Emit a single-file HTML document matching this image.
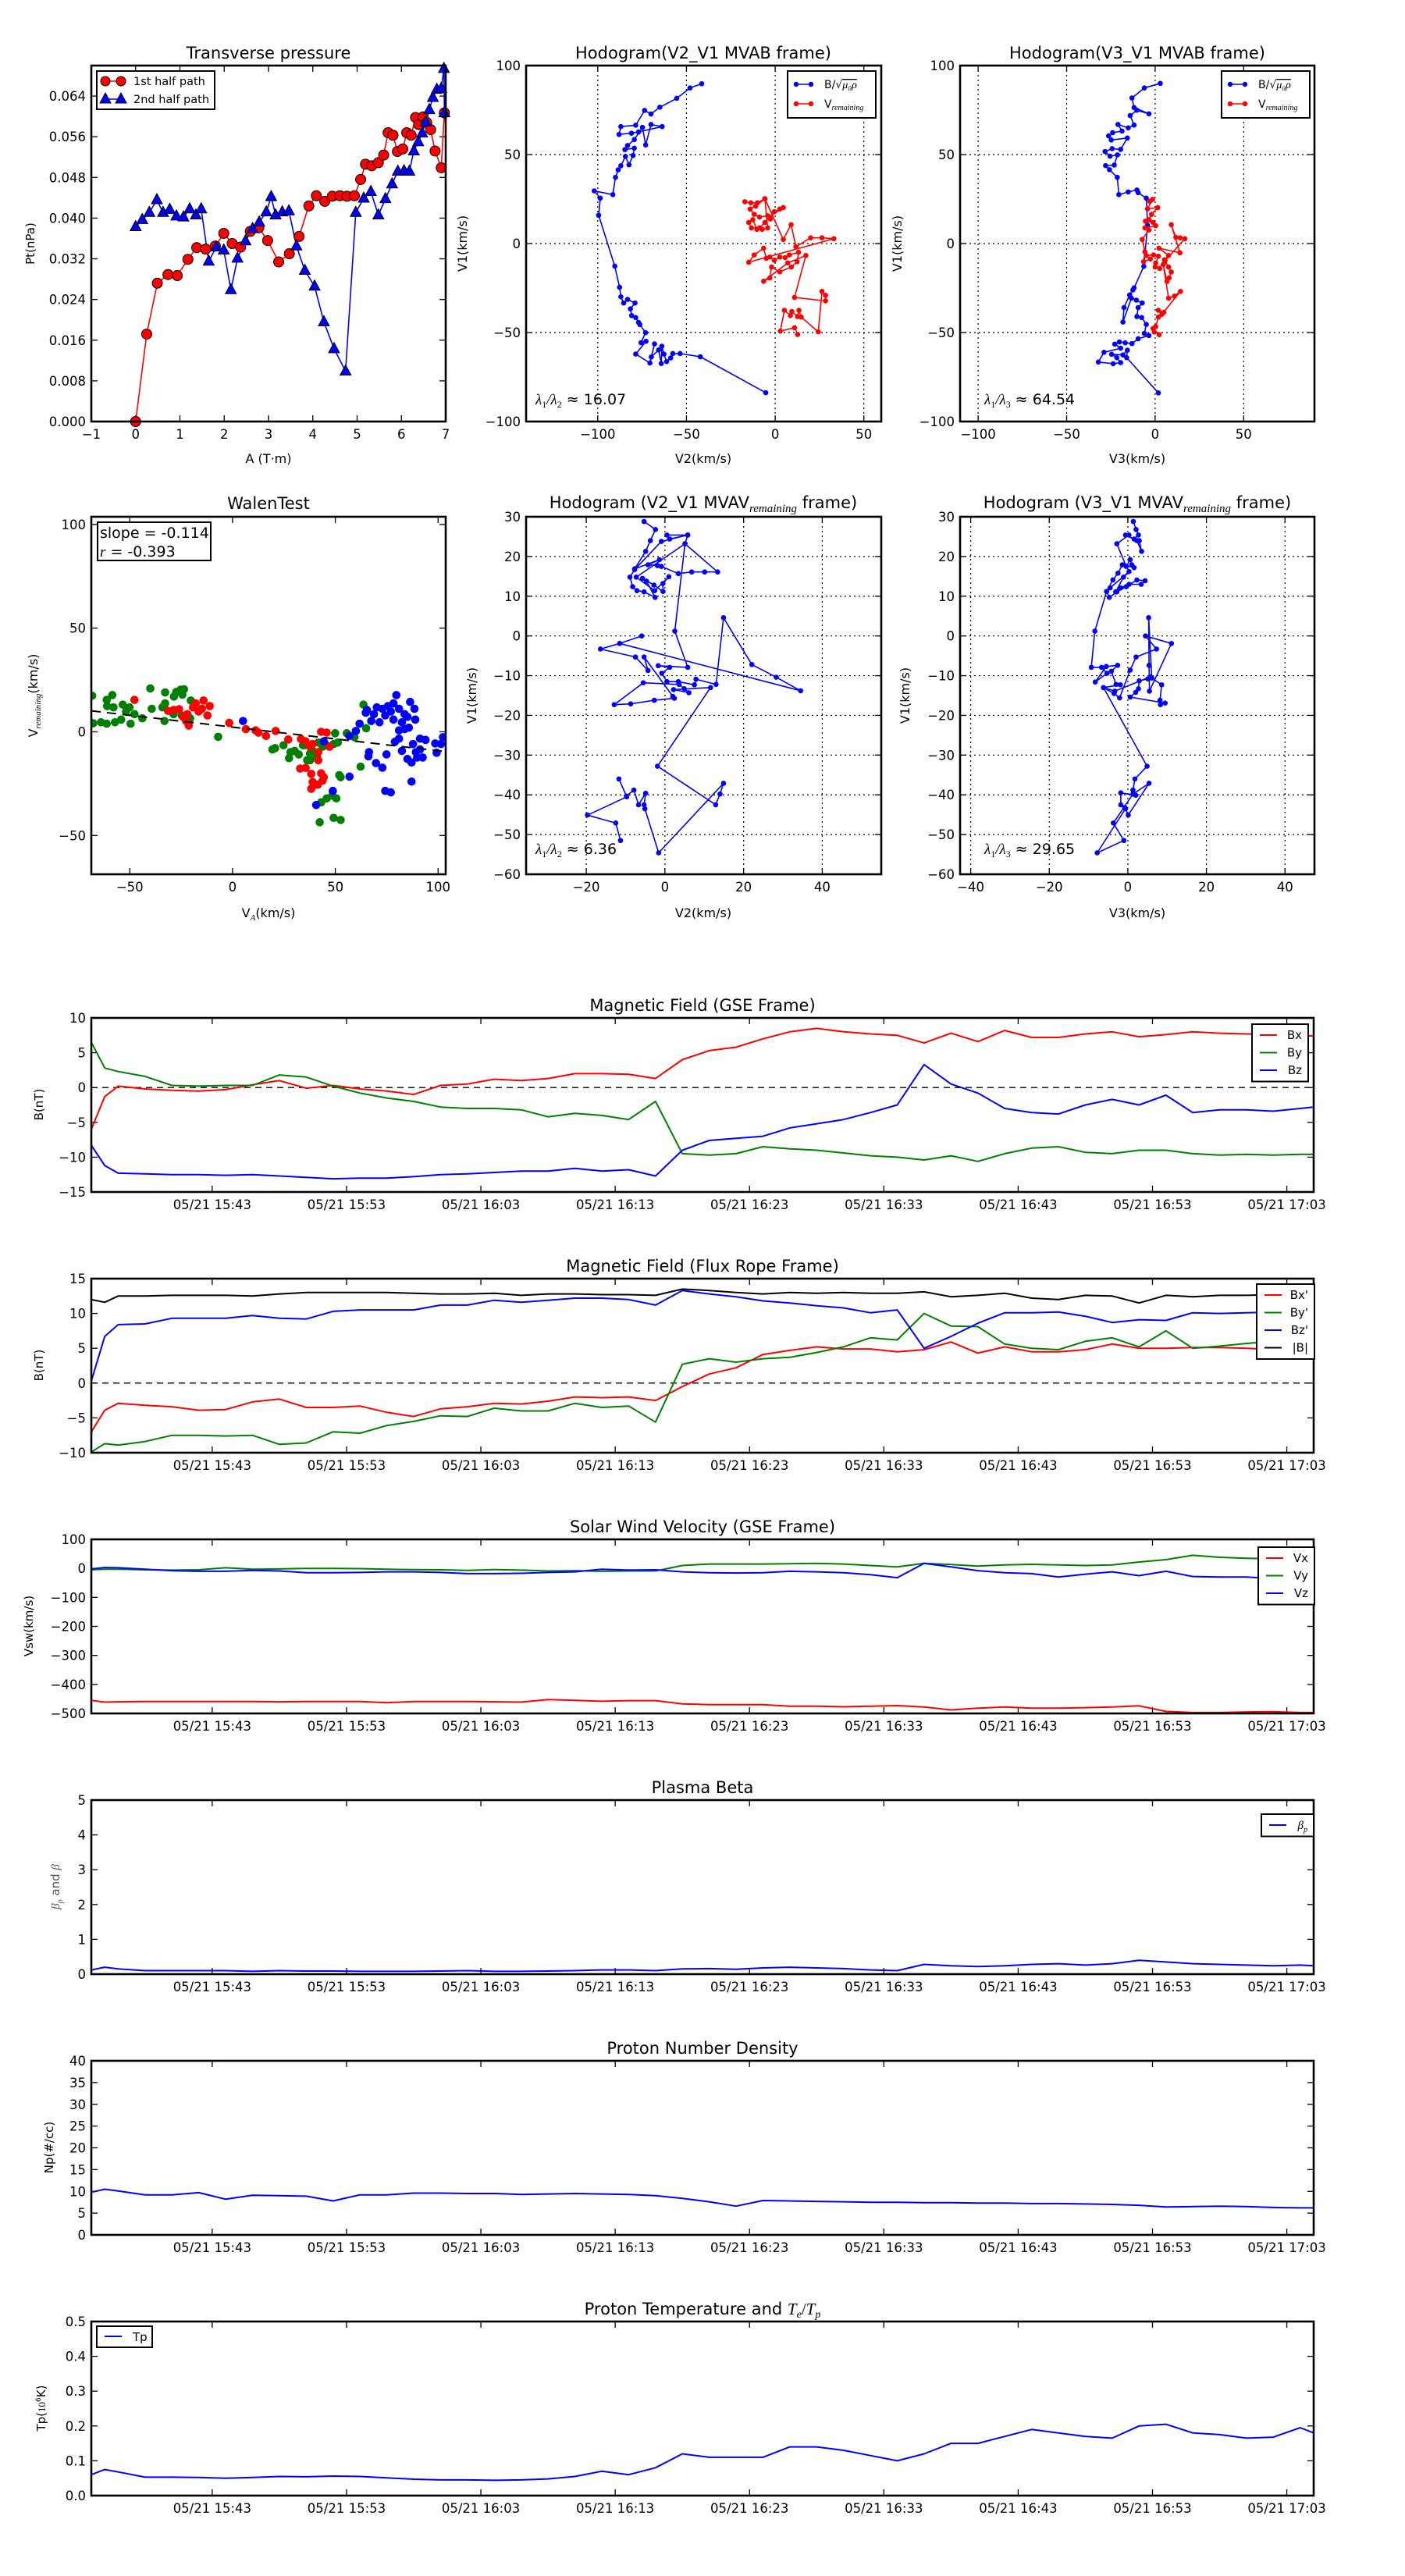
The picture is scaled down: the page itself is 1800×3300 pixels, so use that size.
<!DOCTYPE html>
<html><head><meta charset="utf-8"><title>Flux rope analysis</title>
<style>
html,body{margin:0;padding:0;background:#fff;}
svg{display:block;font-family:"DejaVu Sans","Liberation Sans",sans-serif;}
</style></head>
<body>
<svg id="fig" xmlns="http://www.w3.org/2000/svg" width="1800" height="3300" viewBox="0 0 1800 3300">
<rect x="0" y="0" width="1800" height="3300" fill="#fff"/>
</svg>
<script>
// ---------- Transverse pressure ----------
const ptRedA = [0,0.25,0.49,0.73,0.94,1.18,1.38,1.58,1.80,1.99,2.18,2.37,2.59,2.78,2.98,3.23,3.47,3.69,3.91,4.08,4.27,4.44,4.61,4.77,4.94,5.08,5.19,5.33,5.48,5.60,5.70,5.81,5.91,6.03,6.12,6.22,6.32,6.39,6.49,6.57,6.66,6.76,6.90,6.97];
const ptRedP = [0,0.0172,0.0272,0.0289,0.0287,0.0319,0.0342,0.0339,0.0345,0.0370,0.0350,0.0343,0.0374,0.0381,0.0356,0.0314,0.0330,0.0364,0.0424,0.0444,0.0433,0.0443,0.0444,0.0443,0.0444,0.0476,0.0506,0.0503,0.0509,0.0524,0.0568,0.0563,0.0531,0.0536,0.0568,0.0563,0.0598,0.0584,0.0599,0.0588,0.0574,0.0532,0.0499,0.0607];
const ptBlueA = [0,0.15,0.31,0.48,0.62,0.77,0.92,1.08,1.22,1.36,1.48,1.65,1.82,1.99,2.15,2.30,2.48,2.64,2.79,2.95,3.06,3.16,3.31,3.46,3.63,3.82,4.04,4.25,4.48,4.74,4.97,5.15,5.31,5.48,5.64,5.79,5.92,6.06,6.18,6.28,6.38,6.47,6.55,6.63,6.71,6.80,6.90,6.96,6.97];
const ptBlueP = [0.0383,0.0397,0.0411,0.0436,0.0411,0.0417,0.0404,0.0402,0.0418,0.0406,0.0418,0.0315,0.0343,0.0337,0.0259,0.0321,0.0355,0.0379,0.0392,0.0412,0.0442,0.0406,0.0412,0.0414,0.0345,0.0297,0.0266,0.0196,0.0143,0.0099,0.0411,0.0439,0.0452,0.0406,0.0438,0.0467,0.0492,0.0493,0.0492,0.0532,0.0550,0.0567,0.0589,0.0613,0.0637,0.0653,0.0655,0.0694,0.0607];
const ptXTicks = [-1,0,1,2,3,4,5,6,7];
const ptYTicks = [0,0.008,0.016,0.024,0.032,0.040,0.048,0.056,0.064];
const ptYLabels = ['0.000','0.008','0.016','0.024','0.032','0.040','0.048','0.056','0.064'];

// ---------- Hodogram V2-V1 MVAB ----------
const h1BlueX = [-41.4,-48,-55.5,-65,-70,-73.6,-78.6,-87,-88,-81,-77,-63.7,-70,-73,-74.8,-79.4,-83.2,-84.7,-79.4,-80.1,-82.4,-84.4,-87,-88.5,-90,-91.5,-102,-98.6,-99.5,-90.4,-87.7,-87,-85.4,-83.2,-79,-81.6,-80.9,-78.6,-77,-76.3,-73.1,-75.6,-72.8,-78.6,-70.6,-68,-69.8,-65.7,-64.2,-63.9,-62.7,-61.2,-58.9,-57.7,-53.6,-42.2,-5.3];
const h1BlueY = [89.8,87.4,81.6,76.6,72.8,74.8,66.5,65.7,61.3,62,62.7,65.7,66.9,55.4,65.3,58.4,55.1,52.8,53.6,49.5,44.2,49,43.7,41.4,37.2,27.5,29.6,25.5,15.9,-12.7,-24.6,-29.9,-33.4,-31.4,-33.4,-36.7,-40.5,-41.6,-44.3,-45.5,-50.1,-55.7,-54.9,-62.1,-67.1,-56.4,-63.7,-59.8,-67.4,-57.7,-62.1,-66.3,-64.3,-61.8,-61.8,-63.6,-83.8];
const h1RedX = [-17.1,-13.7,-10,-5.8,-11,-14.1,-11.8,-8.8,-4.2,-2.7,-0.5,2.6,4.6,-3.5,-5.8,-8.8,-13.4,-14.9,-12.6,-10.3,-7.3,-4.2,-5.8,4.6,9,11.7,20,26.4,33.1,-14.9,-11.8,-6.5,-5,-3,-0.5,2.6,5.6,8,13.2,12.4,9.1,2.6,-2,-3,-6.5,7.1,17.3,10.9,28.4,28.4,26.4,24.3,14.7,13.4,12.6,9.4,8.6,5.2,2.9,10.9,12.7];
const h1RedY = [23.5,22.9,22.9,25.2,21,19.4,16.4,14.9,15.6,13.8,17.9,19.4,20.2,14.9,11.8,8.8,8.8,11.8,13.4,8,8,8.8,25.2,2.3,10.6,-1.8,3.2,3.2,2.7,-10.5,-6.4,-2.6,-8.3,-7.6,-9.4,-7.6,-7.9,-6.4,-4.9,-10.2,-13.2,-15.9,-13.2,-19.3,-21.2,-10.9,-6.7,-30.3,-32.2,-29.1,-26.9,-49.6,-41.3,-37.5,-41,-38.2,-40.5,-37.5,-49.2,-47.3,-51.1];

// ---------- Hodogram V3-V1 MVAB ----------
const h2BlueX = [2.9,-6.1,-13.1,-11.9,-3.5,-10.3,-14.1,-11.9,-15.2,-21,-18.7,-24,-26.3,-24.8,-15.7,-19.5,-24.3,-28.3,-25.5,-21.3,-23.1,-28,-25.8,-21.4,-20.5,-15.2,-10.3,-9.6,-5,-4.3,-6.4,-11.9,-12.6,-14.4,-17.6,-18.2,-13.4,-10.6,-7.3,-9.6,-10.3,-7.6,-5,-6.1,-3.5,-9.6,-13.1,-16.9,-20.2,-22.8,-19.5,-28.9,-32.1,-23.7,-19.5,-21.7,-24.6,-18.2,-15.7,-16.1,1.8];
const h2BlueY = [90,87.4,81.8,76.4,72.9,74.9,71.9,66.6,65,66.9,63.2,62.3,60.5,58.2,59.3,52.9,53.3,51.7,49.1,49.8,44.1,43.8,41.5,37.2,27.5,29,30.1,28.6,25.5,10.3,-12.8,-24.9,-26.1,-28.9,-36,-44.1,-30.7,-31.8,-33.4,-36,-41,-41.6,-45.4,-50.5,-51.7,-53.5,-56.2,-55.8,-55.3,-56.5,-58.8,-61.1,-66.6,-67.5,-66.9,-64.1,-62.2,-62.6,-59.9,-64.1,-83.9];
const h2RedX = [-3,-1.5,-4.3,1.5,-2,-3.5,-5.5,-1.2,0.3,-5.8,-3.5,-7.3,-5.8,-6.5,-2.7,-5,-0.9,1.8,0.3,0,2.6,5.3,7.6,2.1,14,9.1,11.7,14.1,16.8,5.6,7.6,9.1,7.9,6.7,4.6,7.6,10.9,14.3,3.8,1.8,4.9,1.8,0.3,-1.2,-0.5,2.3];
const h2RedY = [23.7,24.8,19.5,20.2,16.4,13.4,12.6,11.9,10,8.8,7.6,2.3,-4.6,-10.2,-8.7,-6.7,-6.4,-7.1,-10.9,-13.2,-14,-9.1,-6.7,-2.6,-5.2,10.6,3.5,3.2,2.7,-9.7,-13.2,-16,-19.3,-21.3,-11.7,-30.7,-29.5,-26.9,-39.8,-37.5,-38.6,-41.3,-46.7,-47.7,-49.7,-51.2];

// ---------- Hodogram V2-V1 MVAV ----------
const h3X = [-5.3,-2.4,-3.7,-4.9,-7.7,-1.4,-4.3,-1.9,-0.9,3.4,6.8,10.1,13.4,5.1,5.8,1.2,0.5,5.8,-0.9,-7.7,-8.9,-8.2,-7.1,-5.3,-2.5,-4.7,-5.7,-2.8,-0.5,-0.5,1.0,-2.6,-7.3,5.1,2.5,5.8,-1.7,1.2,-0.8,0.5,3.4,7.5,7.9,13.0,14.9,22.1,28.3,34.5,-11.5,-5.9,-11.5,-16.4,-7.5,-4.3,-5.3,2.0,2.4,-2.7,-8.7,-12.9,-5.5,3.6,4.9,6.1,2.2,11.6,-1.9,12.9,14.0,14.9,-1.6,-5.1,-5.3,-4.9,-6.7,-7.9,-9.8,-11.7,-9.7,-19.7,-12.5,-11.3];
const h3Y = [28.8,26.8,24.0,21.3,16.9,19.2,17.9,17.7,17.5,15.7,16.1,16.1,16.1,23.2,25.4,24.4,25.4,25.4,23.8,16.7,14.8,12.4,11.4,11.1,9.7,13.8,14.5,12.8,11.2,13.2,14.9,11.4,14.8,23.2,1.2,-7.9,-7.5,-7.9,-9.4,-11.5,-11.5,-12.3,-10.9,-12.2,4.6,-7.2,-10.4,-13.8,-1.9,0,-1.9,-3.3,-5.3,-8.7,-5.3,-15.2,-15.7,-16.2,-17.1,-17.3,-11.8,-12.2,-13.3,-14.3,-13.5,-13.0,-32.8,-42.5,-39.8,-37.1,-54.6,-43.5,-42.5,-39.6,-42.5,-38.8,-40.3,-36.0,-40.5,-45.1,-47.1,-51.5];

// ---------- Hodogram V3-V1 MVAV ----------
const h4X = [1.4,2.1,2.7,1.6,2.9,3.5,2.3,-0.6,0.3,-2.8,-0.4,0.6,1.0,1.6,-1.4,-2.5,-3.8,-5.4,-4.7,-2.8,-0.4,2.3,4.4,3.4,0.3,-1.8,-3.1,-1.1,0.3,-4.5,-5.4,-8.4,-9.3,-6.7,-5.3,-8.3,-5.5,-2.6,-4.2,-3.0,-1.9,-6.2,-3.5,-2.1,0.6,2.1,7.3,4.5,11.1,5.5,5.4,5.3,6.1,8.6,8.2,8.3,9.5,0.6,2.0,2.7,2.9,5.1,5.7,-3.3,-6.2,4.9,1.8,1.3,2.0,-1.8,-1.8,-0.8,0.1,5.4,1.3,-3.7,-1.0,-7.8,-0.6];
const h4Y = [28.8,26.8,25.4,24.4,24.0,21.3,24.0,25.4,25.4,23.2,17.5,19.2,17.9,17.2,17.9,15.8,14.1,11.2,9.7,11.1,12.4,14.1,13.9,13.0,13.0,12.1,11.1,14.8,16.2,12.1,11.2,1.2,-7.9,-7.9,-9.4,-11.6,-7.7,-7.4,-8.9,-12.2,-12.3,-13.0,-14.5,-15.6,-8.6,-5.3,-3.3,0,-1.9,-13.9,-7.4,4.6,-10.6,-12.3,-16.2,-17.3,-16.9,-15.4,-14.2,-13.3,-11.3,-10.8,-10.3,-13.9,-13.0,-32.8,-36.0,-38.8,-40.1,-39.5,-42.5,-43.2,-45.1,-37.1,-39.8,-47.1,-51.5,-54.6,-43.5];

// ---------- Walen test ----------
const walenGreenX = [-68.3,-67.8,-64.0,-61.2,-61.2,-61.0,-58.5,-57.9,-57.2,-54.2,-53.4,-51.8,-50.1,-49.6,-47.7,-43.9,-40.0,-39.3,-34.1,-33.1,-32.8,-32.8,-28.5,-27.4,-25.3,-23.6,-24.4,-28.7,-24.7,-20.3,-20.6,-7.0,19.4,20.7,24.8,27.5,28.2,30.2,32.2,34.3,36.3,37.7,39.0,41.1,41.7,43.8,45.8,49.2,49.9,51.2,55.6,59.3,63.7,65.0,62.3,51.9,52.6,41.5,43.1,45.8,48.5,50.5,42.4,49.2,52.6,35.0,37.7];
const walenGreenY = [17.4,4.1,4.6,3.9,15.4,12.4,17.7,11.8,4.6,5.9,13.1,9.8,11.8,3.9,8.5,6.5,20.9,11.1,11.8,5.2,19.0,13.7,17.0,19.2,20.3,20.5,17.9,8.5,7.9,15.1,6.5,-2.4,-8.5,-7.9,-6.5,-12.7,-9.8,-9.2,-10.9,-6.5,-13.7,-10.5,-9.2,-12.4,-5.2,-7.2,-6.5,-5.9,-0.7,-5.2,-0.7,-2.6,13.1,1.7,-16.8,-20.9,-21.9,-25.5,-34.0,-32.1,-30.8,-32.1,-43.6,-41.5,-42.5,-6.5,-13.7];
const walenRedX = [-47.7,-31.4,-28.7,-26.0,-24.0,-22.0,-21.3,-19.2,-17.9,-16.5,-14.9,-14.1,-12.2,-11.1,-22.6,-1.6,6.5,11.2,12.6,16.3,21.0,27.1,33.3,35.6,37.7,39.0,41.7,41.7,32.9,35.6,38.3,43.1,44.4,39.0,41.1,38.3,43.1,45.8,47.2,43.8];
const walenRedY = [15.4,10.1,10.5,10.9,7.2,8.5,3.0,11.8,13.7,9.8,11.1,15.1,7.9,12.4,5.2,4.3,1.3,0.7,-0.4,-2.0,0.4,-3.7,-3.5,-4.6,-7.2,-5.9,-9.8,-13.7,-17.7,-17.4,-20.3,-20.0,-21.9,-24.2,-25.5,-27.5,0,-0.4,-7.2,-23.6];
const walenBlueX = [5.1,44.4,40.7,48.8,56.9,60.0,61.8,56.9,66.4,66.1,69.8,72.9,74.9,74.3,77.0,79.0,81.0,82.4,85.1,87.1,89.2,91.2,92.5,93.9,87.1,98.6,99.3,101.4,102.4,65.4,67.5,70.2,71.5,72.9,75.6,77.0,78.3,79.7,81.0,82.4,83.7,85.1,86.4,88.5,88.9,81.0,83.7,64.8,68.8,74.3,78.3,85.8,87.8,89.8,91.2];
const walenBlueY = [5.2,-4.6,-35.3,-28.5,-2.0,0.4,3.9,-21.6,-9.8,-11.8,-15.1,-17.3,-10.9,-28.5,-29.2,-4.8,-3.3,-9.2,-13.1,-14.8,-9.8,-8.5,-12.4,-3.9,-24.0,-5.6,-10.1,-5.9,-2.6,10.5,5.2,11.8,4.6,11.1,12.4,9.8,5.9,17.7,11.1,4.6,1.3,7.2,14.4,11.1,5.9,0.7,8.5,9.2,8.5,7.9,13.7,2.0,-5.9,-12.4,-3.3];
const walenSlope = -0.114;
const walenIntercept = 2.27;
const walenTicks = [-50,0,50,100];

// ---------- time series ----------
const timeTickVals = [9,19,29,39,49,59,69,79,89];
const timeTickLabels = ['05/21 15:43','05/21 15:53','05/21 16:03','05/21 16:13','05/21 16:23','05/21 16:33','05/21 16:43','05/21 16:53','05/21 17:03'];
const tMin = [0,1,2,4,6,8,10,12,14,16,18,20,22,24,26,28,30,32,34,36,38,40,42,44,46,48,50,52,54,56,58,60,62,64,66,68,70,72,74,76,78,80,82,84,86,88,90,91];
const gseBx = [-6,-1.3,0.2,-0.2,-0.4,-0.5,-0.3,0.4,1.0,-0.1,0.3,-0.2,-0.5,-1.0,0.3,0.5,1.2,1.0,1.3,2.0,2.0,1.9,1.3,4.0,5.3,5.8,7.0,8.0,8.5,8.0,7.7,7.5,6.4,7.8,6.6,8.2,7.2,7.2,7.7,8.0,7.3,7.6,8.0,7.8,7.7,7.6,7.5,7.4];
const gseBy = [6.5,2.8,2.3,1.6,0.3,0.2,0.3,0.3,1.8,1.5,0.2,-0.8,-1.5,-2.0,-2.8,-3.0,-3.0,-3.2,-4.2,-3.7,-4.0,-4.6,-2.0,-9.5,-9.7,-9.5,-8.5,-8.8,-9.0,-9.4,-9.8,-10.0,-10.4,-9.8,-10.6,-9.5,-8.7,-8.5,-9.3,-9.5,-9.0,-9.0,-9.5,-9.7,-9.6,-9.7,-9.6,-9.6];
const gseBz = [-8.3,-11.2,-12.3,-12.4,-12.5,-12.5,-12.6,-12.5,-12.7,-12.9,-13.1,-13.0,-13.0,-12.8,-12.5,-12.4,-12.2,-12.0,-12.0,-11.6,-12.0,-11.8,-12.7,-9.0,-7.6,-7.3,-7.0,-5.8,-5.2,-4.6,-3.6,-2.5,3.3,0.5,-0.8,-3.0,-3.6,-3.8,-2.5,-1.7,-2.5,-1.1,-3.6,-3.2,-3.2,-3.4,-3.0,-2.8];
const frBx = [-7,-3.9,-2.9,-3.2,-3.4,-3.9,-3.8,-2.7,-2.3,-3.5,-3.5,-3.3,-4.2,-4.8,-3.7,-3.4,-2.9,-3.0,-2.6,-2.0,-2.1,-2.0,-2.5,-0.5,1.3,2.2,4.1,4.7,5.2,4.9,4.9,4.5,4.8,5.9,4.3,5.2,4.5,4.5,4.8,5.6,5.0,5.0,5.1,5.1,5.0,4.8,4.6,4.6];
const frBy = [-9.9,-8.7,-8.9,-8.4,-7.5,-7.5,-7.6,-7.5,-8.8,-8.6,-7.0,-7.2,-6.1,-5.5,-4.7,-4.8,-3.6,-4.0,-4.0,-2.9,-3.5,-3.3,-5.6,2.7,3.5,3.0,3.5,3.7,4.4,5.2,6.5,6.2,10.0,8.2,8.1,5.6,5.0,4.8,6.0,6.5,5.2,7.5,5.0,5.3,5.7,6.0,6.0,6.0];
const frBz = [0.3,6.7,8.4,8.5,9.3,9.3,9.3,9.7,9.3,9.2,10.3,10.5,10.5,10.5,11.2,11.2,11.9,11.6,11.9,12.2,12.2,12.0,11.2,13.3,12.8,12.4,11.8,11.5,11.1,10.8,10.1,10.5,5.0,6.7,8.6,10.1,10.1,10.2,9.6,8.7,9.1,9.0,10.1,10.0,10.1,10.2,9.8,9.7];
const frBmag = [12.0,11.6,12.5,12.5,12.6,12.6,12.6,12.5,12.8,13.0,13.0,13.0,13.0,12.9,12.8,12.8,12.9,12.6,12.8,12.8,12.7,12.7,12.6,13.5,13.3,13.0,12.8,13.0,12.9,13.0,12.9,12.9,13.1,12.4,12.6,12.9,12.2,12.0,12.6,12.5,11.5,12.6,12.4,12.6,12.6,12.7,12.8,12.8];
const swVx = [-455,-461,-460,-459,-459,-459,-459,-459,-460,-459,-459,-459,-463,-459,-459,-459,-460,-461,-452,-455,-458,-456,-456,-467,-470,-470,-470,-475,-475,-477,-475,-473,-478,-488,-482,-478,-482,-482,-480,-478,-474,-493,-497,-497,-495,-494,-497,-497];
const swVy = [-5,-3,-3,-5,-6,-5,2,-3,-2,0,0,-1,-3,-4,-5,-7,-4,-6,-9,-8,-10,-9,-9,10,15,15,15,16,17,15,10,5,17,13,8,12,14,12,10,12,22,30,45,38,35,33,30,40];
const swVz = [-2,3,2,-3,-8,-10,-10,-7,-9,-15,-15,-14,-12,-12,-14,-18,-18,-17,-14,-12,-3,-6,-5,-12,-15,-16,-15,-10,-12,-15,-22,-32,17,5,-8,-15,-18,-30,-20,-12,-25,-10,-28,-30,-30,-35,-38,-38];
const betaP = [0.12,0.2,0.15,0.1,0.1,0.1,0.1,0.08,0.1,0.09,0.09,0.08,0.08,0.08,0.09,0.1,0.08,0.08,0.09,0.1,0.12,0.12,0.1,0.15,0.16,0.14,0.18,0.2,0.18,0.16,0.12,0.1,0.28,0.24,0.22,0.24,0.28,0.3,0.26,0.3,0.4,0.35,0.3,0.28,0.26,0.24,0.26,0.24];
const npVals = [9.8,10.5,10.1,9.2,9.2,9.7,8.2,9.1,9.0,8.9,7.8,9.2,9.2,9.6,9.6,9.5,9.5,9.3,9.4,9.5,9.4,9.3,9.0,8.4,7.6,6.6,7.9,7.8,7.7,7.6,7.5,7.5,7.4,7.4,7.3,7.3,7.2,7.2,7.1,7.0,6.8,6.4,6.5,6.6,6.5,6.3,6.2,6.2];
const tpVals = [0.06,0.075,0.068,0.053,0.053,0.052,0.05,0.052,0.055,0.054,0.056,0.055,0.051,0.047,0.045,0.045,0.044,0.045,0.048,0.055,0.07,0.06,0.08,0.12,0.11,0.11,0.11,0.14,0.14,0.13,0.115,0.1,0.12,0.15,0.15,0.17,0.19,0.18,0.17,0.165,0.2,0.205,0.18,0.175,0.165,0.168,0.195,0.18];

// ================= rendering =================
const NS = 'http://www.w3.org/2000/svg';
const svg = document.getElementById('fig');
let clipN = 0;
const FS = 16.5;
function mk(tag, attrs, parent){
  const el = document.createElementNS(NS, tag);
  for (const k in attrs) el.setAttribute(k, attrs[k]);
  (parent || svg).appendChild(el);
  return el;
}
function txt(str, attrs, parent){
  const el = mk('text', attrs, parent);
  el.textContent = str;
  return el;
}
function fmtMinus(s){ return String(s).replace('-', '\u2212'); }

function axes(c){
  const g = mk('g', {});
  
  
  const sx = v => c.x + (v - c.xmin) / (c.xmax - c.xmin) * c.w;
  const sy = v => c.y + c.h - (v - c.ymin) / (c.ymax - c.ymin) * c.h;
  const id = 'clip' + (clipN++);
  const cp = mk('clipPath', {id: id}, g);
  mk('rect', {x: c.x, y: c.y, width: c.w, height: c.h}, cp);
  if (c.grid){
    c.xticks.forEach(v => {
      const X = sx(v); if (X < c.x + 1 || X > c.x + c.w - 1) return;
      const gl = mk('line', {x1: X, x2: X, y1: c.y, y2: c.y + c.h, stroke: '#000', 'stroke-width': 1.2, 'stroke-dasharray': '2,4'}, g);
      
      
    });
    c.yticks.forEach(v => {
      const Y = sy(v); if (Y < c.y + 1 || Y > c.y + c.h - 1) return;
      const gl = mk('line', {x1: c.x, x2: c.x + c.w, y1: Y, y2: Y, stroke: '#000', 'stroke-width': 1.2, 'stroke-dasharray': '2,4'}, g);
      
      
    });
  }
  c.xticks.forEach((v, i) => {
    const X = sx(v); if (X < c.x - 1 || X > c.x + c.w + 1) return;
    mk('line', {x1: X, x2: X, y1: c.y + c.h, y2: c.y + c.h - 8, stroke: '#000', 'stroke-width': 1.3}, g);
    mk('line', {x1: X, x2: X, y1: c.y, y2: c.y + 8, stroke: '#000', 'stroke-width': 1.3}, g);
    const lab = c.xlabels ? c.xlabels[i] : fmtMinus(v);
    const t = txt(lab, {x: X, y: c.y + c.h + 22, 'text-anchor': 'middle', 'font-size': FS}, g);
    
    
  });
  c.yticks.forEach((v, i) => {
    const Y = sy(v); if (Y < c.y - 1 || Y > c.y + c.h + 1) return;
    mk('line', {x1: c.x, x2: c.x + 8, y1: Y, y2: Y, stroke: '#000', 'stroke-width': 1.3}, g);
    mk('line', {x1: c.x + c.w, x2: c.x + c.w - 8, y1: Y, y2: Y, stroke: '#000', 'stroke-width': 1.3}, g);
    const lab = c.ylabels ? c.ylabels[i] : fmtMinus(v);
    const t = txt(lab, {x: c.x - 7, y: Y + 6, 'text-anchor': 'end', 'font-size': FS}, g);
    
    
  });
  const data = mk('g', {'clip-path': 'url(#' + id + ')'}, g);
  
  
  return {g, data, sx, sy, c,
    frame(){
      const f = mk('rect', {x: c.x, y: c.y, width: c.w, height: c.h, fill: 'none', stroke: '#000', 'stroke-width': 2.6}, g);
      
      
    }};
}
function poly(ax, xs, ys, color, width, name){
  const pts = xs.map((v, i) => ax.sx(v).toFixed(1) + ',' + ax.sy(ys[i]).toFixed(1)).join(' ');
  const p = mk('polyline', {points: pts, fill: 'none', stroke: color, 'stroke-width': width, 'stroke-linejoin': 'round'}, ax.data);
  
  
  return p;
}
function dots(ax, xs, ys, color, r, name){
  xs.forEach((v, i) => {
    const d = mk('circle', {cx: ax.sx(v), cy: ax.sy(ys[i]), r: r, fill: color}, ax.data);
    
    
  });
}
function title(str, cx, y){
  const t = txt(str, {x: cx, y: y, 'text-anchor': 'middle', 'font-size': 21});
  
  
  return t;
}
function ylab(str, x, cy, size){
  const t = txt(str, {x: x, y: cy, 'text-anchor': 'middle', 'font-size': size || 16, transform: 'rotate(-90 ' + x + ' ' + cy + ')'});
  
  
  return t;
}
function xlab(str, cx, y){
  const t = txt(str, {x: cx, y: y, 'text-anchor': 'middle', 'font-size': 16});
  
  
  return t;
}
function tspan(el, str, attrs){
  const s = mk('tspan', attrs || {}, el);
  s.textContent = str;
  return s;
}

// ---- Panel: Transverse pressure ----
(function(){
  const ax = axes({name: 'transverse-pressure-panel', x: 117, y: 84, w: 454, h: 456, xmin: -1, xmax: 7, ymin: 0, ymax: 0.070,
    xticks: ptXTicks, yticks: ptYTicks, ylabels: ptYLabels});
  poly(ax, ptRedA, ptRedP, '#ff0000', 1.6, 'first-half-path-line');
  poly(ax, ptBlueA, ptBlueP, '#0000ff', 1.6, 'second-half-path-line');
  ptRedA.forEach((v, i) => {
    const m = mk('circle', {cx: ax.sx(v), cy: ax.sy(ptRedP[i]), r: 6.5, fill: '#ff0000', stroke: '#000', 'stroke-width': 1}, ax.g);
    
    
  });
  ptBlueA.forEach((v, i) => {
    const X = ax.sx(v), Y = ax.sy(ptBlueP[i]);
    const m = mk('polygon', {points: X + ',' + (Y - 8) + ' ' + (X - 7) + ',' + (Y + 5) + ' ' + (X + 7) + ',' + (Y + 5), fill: '#0000ff', stroke: '#000', 'stroke-width': 1}, ax.g);
    
    
  });
  ax.frame();
  const lg = mk('g', {});
  
  
  mk('rect', {x: 124, y: 91, width: 151, height: 49, fill: '#fff', stroke: '#000', 'stroke-width': 2}, lg);
  mk('line', {x1: 135, x2: 155, y1: 104, y2: 104, stroke: '#ff0000', 'stroke-width': 1.6}, lg);
  mk('circle', {cx: 135, cy: 104, r: 6, fill: '#ff0000', stroke: '#000'}, lg);
  mk('circle', {cx: 155, cy: 104, r: 6, fill: '#ff0000', stroke: '#000'}, lg);
  txt('1st half path', {x: 171, y: 109, 'font-size': 14.5}, lg);
  mk('line', {x1: 135, x2: 155, y1: 127, y2: 127, stroke: '#0000ff', 'stroke-width': 1.6}, lg);
  mk('polygon', {points: '135,119 128,132 142,132', fill: '#0000ff', stroke: '#000'}, lg);
  mk('polygon', {points: '155,119 148,132 162,132', fill: '#0000ff', stroke: '#000'}, lg);
  txt('2nd half path', {x: 171, y: 132, 'font-size': 14.5}, lg);
  title('Transverse pressure', 344, 75);
  ylab('Pt(nPa)', 44, 312, 15);
  xlab('A (T\u00b7m)', 344, 593);
})();

// ---- hodogram legend & lambda text ----
function hodoLegend(x0){
  const lg = mk('g', {});
  
  
  mk('rect', {x: x0, y: 91, width: 113, height: 60, fill: '#fff', stroke: '#000', 'stroke-width': 2}, lg);
  mk('line', {x1: x0 + 11, x2: x0 + 30, y1: 108, y2: 108, stroke: '#0000ff', 'stroke-width': 1.6}, lg);
  mk('circle', {cx: x0 + 11, cy: 108, r: 3.2, fill: '#0000ff'}, lg);
  mk('circle', {cx: x0 + 30, cy: 108, r: 3.2, fill: '#0000ff'}, lg);
  const t1 = txt('B/\u221a', {x: x0 + 47, y: 113, 'font-size': 14}, lg);
  tspan(t1, '\u03bc\u2080\u03c1', {'font-style': 'italic', 'font-family': 'Liberation Serif, serif', 'text-decoration': 'overline'});
  mk('line', {x1: x0 + 11, x2: x0 + 30, y1: 133, y2: 133, stroke: '#ff0000', 'stroke-width': 1.6}, lg);
  mk('circle', {cx: x0 + 11, cy: 133, r: 3.2, fill: '#ff0000'}, lg);
  mk('circle', {cx: x0 + 30, cy: 133, r: 3.2, fill: '#ff0000'}, lg);
  const t2 = txt('V', {x: x0 + 47, y: 138, 'font-size': 14}, lg);
  tspan(t2, 'remaining', {'font-style': 'italic', 'font-family': 'Liberation Serif, serif', 'font-size': 10, dy: 3});
}
function lambdaText(x, y, sub2, val){
  const t = txt('', {x: x, y: y, 'font-size': 19}, null);
  
  
  tspan(t, '\u03bb', {'font-style': 'italic', 'font-family': 'Liberation Serif, serif'});
  tspan(t, '1', {'font-size': 12, dy: 4, 'font-family': 'Liberation Serif, serif'});
  tspan(t, '/', {dy: -4, 'font-family': 'Liberation Serif, serif', 'font-style': 'italic'});
  tspan(t, '\u03bb', {'font-style': 'italic', 'font-family': 'Liberation Serif, serif'});
  tspan(t, sub2, {'font-size': 12, dy: 4, 'font-family': 'Liberation Serif, serif'});
  tspan(t, ' \u2248 ' + val, {dy: -4});
}

// ---- Panel: Hodogram V2_V1 MVAB ----
(function(){
  const ax = axes({name: 'hodogram-v2-v1-mvab', x: 674, y: 84, w: 455, h: 456, xmin: -140.4, xmax: 59.8, ymin: -100, ymax: 100,
    xticks: [-100, -50, 0, 50], yticks: [-100, -50, 0, 50, 100], grid: true});
  poly(ax, h1BlueX, h1BlueY, '#0000ff', 1.6, 'b-alfven-path');
  dots(ax, h1BlueX, h1BlueY, '#0000ff', 3.3, 'b-alfven-point');
  poly(ax, h1RedX, h1RedY, '#ff0000', 1.6, 'v-remaining-path');
  dots(ax, h1RedX, h1RedY, '#ff0000', 3.3, 'v-remaining-point');
  ax.frame();
  hodoLegend(1009);
  lambdaText(686, 518, '2', '16.07');
  title('Hodogram(V2_V1 MVAB frame)', 901, 75);
  ylab('V1(km/s)', 598, 312, 16);
  xlab('V2(km/s)', 901, 593);
})();

// ---- Panel: Hodogram V3_V1 MVAB ----
(function(){
  const ax = axes({name: 'hodogram-v3-v1-mvab', x: 1230, y: 84, w: 454, h: 456, xmin: -110.2, xmax: 90, ymin: -100, ymax: 100,
    xticks: [-100, -50, 0, 50], yticks: [-100, -50, 0, 50, 100], grid: true});
  poly(ax, h2BlueX, h2BlueY, '#0000ff', 1.6, 'b-alfven-path');
  dots(ax, h2BlueX, h2BlueY, '#0000ff', 3.3, 'b-alfven-point');
  poly(ax, h2RedX, h2RedY, '#ff0000', 1.6, 'v-remaining-path');
  dots(ax, h2RedX, h2RedY, '#ff0000', 3.3, 'v-remaining-point');
  ax.frame();
  hodoLegend(1565);
  lambdaText(1261, 518, '3', '64.54');
  title('Hodogram(V3_V1 MVAB frame)', 1457, 75);
  ylab('V1(km/s)', 1155, 312, 16);
  xlab('V3(km/s)', 1457, 593);
})();

// ---- Panel: Walen test ----
(function(){
  const ax = axes({name: 'walen-test-panel', x: 117, y: 662, w: 454, h: 458, xmin: -68.7, xmax: 103.7, ymin: -68.7, ymax: 103.7,
    xticks: walenTicks, yticks: walenTicks});
  dots(ax, walenGreenX, walenGreenY, '#008000', 5.3, 'walen-point-green');
  dots(ax, walenRedX, walenRedY, '#ff0000', 5.3, 'walen-point-red');
  dots(ax, walenBlueX, walenBlueY, '#0000ff', 5.3, 'walen-point-blue');
  const fitX = [ax.c.xmin, ax.c.xmax];
  const fl = mk('line', {x1: ax.sx(fitX[0]), y1: ax.sy(walenSlope * fitX[0] + walenIntercept), x2: ax.sx(fitX[1]), y2: ax.sy(walenSlope * fitX[1] + walenIntercept), stroke: '#000', 'stroke-width': 2, 'stroke-dasharray': '12,8'}, ax.data);
  
  
  ax.frame();
  const bx = mk('g', {});
  
  
  mk('rect', {x: 125, y: 669, width: 145, height: 49, fill: '#fff', stroke: '#000', 'stroke-width': 2}, bx);
  txt('slope = -0.114', {x: 128, y: 689, 'font-size': 19}, bx);
  const r = txt('', {x: 128, y: 713, 'font-size': 19}, bx);
  tspan(r, 'r', {'font-style': 'italic', 'font-family': 'Liberation Serif, serif'});
  tspan(r, ' = -0.393');
  title('WalenTest', 344, 652);
  const yl = ylab('', 48, 891, 16);
  tspan(yl, 'V');
  tspan(yl, 'remaining', {'font-style': 'italic', 'font-family': 'Liberation Serif, serif', 'font-size': 11, dy: 4});
  tspan(yl, '(km/s)', {dy: -4});
  const xl = xlab('', 344, 1175);
  tspan(xl, 'V');
  tspan(xl, 'A', {'font-style': 'italic', 'font-family': 'Liberation Serif, serif', 'font-size': 11, dy: 4});
  tspan(xl, '(km/s)', {dy: -4});
})();

function mvavTitle(str1, cx, y){
  const t = title('', cx, y);
  tspan(t, str1);
  tspan(t, 'remaining', {'font-style': 'italic', 'font-family': 'Liberation Serif, serif', 'font-size': 15, dy: 5});
  tspan(t, ' frame)', {dy: -5});
}

// ---- Panel: Hodogram V2_V1 MVAV ----
(function(){
  const ax = axes({name: 'hodogram-v2-v1-mvav', x: 674, y: 662, w: 455, h: 458, xmin: -35.3, xmax: 55, ymin: -60, ymax: 30,
    xticks: [-20, 0, 20, 40], yticks: [-60, -50, -40, -30, -20, -10, 0, 10, 20, 30], grid: true});
  poly(ax, h3X, h3Y, '#0000ff', 1.6, 'mvav-path');
  dots(ax, h3X, h3Y, '#0000ff', 3.3, 'mvav-point');
  ax.frame();
  lambdaText(686, 1094, '2', '6.36');
  mvavTitle('Hodogram (V2_V1 MVAV', 901, 651);
  ylab('V1(km/s)', 610, 891, 16);
  xlab('V2(km/s)', 901, 1175);
})();

// ---- Panel: Hodogram V3_V1 MVAV ----
(function(){
  const ax = axes({name: 'hodogram-v3-v1-mvav', x: 1230, y: 662, w: 454, h: 458, xmin: -42.7, xmax: 47.5, ymin: -60, ymax: 30,
    xticks: [-40, -20, 0, 20, 40], yticks: [-60, -50, -40, -30, -20, -10, 0, 10, 20, 30], grid: true});
  poly(ax, h4X, h4Y, '#0000ff', 1.6, 'mvav-path');
  dots(ax, h4X, h4Y, '#0000ff', 3.3, 'mvav-point');
  ax.frame();
  lambdaText(1261, 1094, '3', '29.65');
  mvavTitle('Hodogram (V3_V1 MVAV', 1457, 651);
  ylab('V1(km/s)', 1165, 891, 16);
  xlab('V3(km/s)', 1457, 1175);
})();

// ---- time series panels ----
function timeLegend(x0, y0, w, entries){
  const lg = mk('g', {});
  
  
  const h = entries.length * 22.5 + 6;
  mk('rect', {x: x0, y: y0, width: w, height: h, fill: '#fff', stroke: '#000', 'stroke-width': 2}, lg);
  entries.forEach((e, i) => {
    const yy = y0 + 14 + i * 22.5;
    mk('line', {x1: x0 + 10, x2: x0 + 32, y1: yy, y2: yy, stroke: e[1], 'stroke-width': 2}, lg);
    const t = txt('', {x: x0 + w - 8, y: yy + 5, 'font-size': 15, 'text-anchor': 'end'}, lg);
    if (e[2]) { tspan(t, e[0], {'font-style': 'italic', 'font-family': 'Liberation Serif, serif'}); tspan(t, e[2], {'font-size': 10, dy: 4, 'font-style': 'italic', 'font-family': 'Liberation Serif, serif'}); }
    else tspan(t, e[0]);
  });
}
function timePanel(k, name, ymin, ymax, yticks, ylabels){
  const top = 1304 + 334 * k;
  return axes({name: name, x: 117, y: top, w: 1566, h: 223, xmin: 0, xmax: 91, ymin: ymin, ymax: ymax,
    xticks: timeTickVals, xlabels: timeTickLabels, yticks: yticks, ylabels: ylabels});
}
function zeroLine(ax){
  const z = mk('line', {x1: ax.c.x, x2: ax.c.x + ax.c.w, y1: ax.sy(0), y2: ax.sy(0), stroke: '#000', 'stroke-width': 1.3, 'stroke-dasharray': '8,6'}, ax.data);
  
  
}

(function(){
  const ax = timePanel(0, 'magnetic-field-gse-panel', -15, 10, [-15, -10, -5, 0, 5, 10]);
  zeroLine(ax);
  poly(ax, tMin, gseBx, '#ff0000', 2, 'bx-line');
  poly(ax, tMin, gseBy, '#008000', 2, 'by-line');
  poly(ax, tMin, gseBz, '#0000ff', 2, 'bz-line');
  ax.frame();
  timeLegend(1604, 1312, 72, [['Bx', '#ff0000'], ['By', '#008000'], ['Bz', '#0000ff']]);
  title('Magnetic Field (GSE Frame)', 900, 1295);
  ylab('B(nT)', 55, 1415, 15);
})();
(function(){
  const ax = timePanel(1, 'magnetic-field-flux-rope-panel', -10, 15, [-10, -5, 0, 5, 10, 15]);
  zeroLine(ax);
  poly(ax, tMin, frBx, '#ff0000', 2, 'bx-prime-line');
  poly(ax, tMin, frBy, '#008000', 2, 'by-prime-line');
  poly(ax, tMin, frBz, '#0000ff', 2, 'bz-prime-line');
  poly(ax, tMin, frBmag, '#000000', 2, 'b-magnitude-line');
  ax.frame();
  timeLegend(1610, 1645, 74, [["Bx'", '#ff0000'], ["By'", '#008000'], ["Bz'", '#0000ff'], ['|B|', '#000000']]);
  title('Magnetic Field (Flux Rope Frame)', 900, 1629);
  ylab('B(nT)', 55, 1749, 15);
})();
(function(){
  const ax = timePanel(2, 'solar-wind-velocity-panel', -500, 100, [-500, -400, -300, -200, -100, 0, 100]);
  poly(ax, tMin, swVx, '#ff0000', 2, 'vx-line');
  poly(ax, tMin, swVy, '#008000', 2, 'vy-line');
  poly(ax, tMin, swVz, '#0000ff', 2, 'vz-line');
  ax.frame();
  timeLegend(1612, 1982, 72, [['Vx', '#ff0000'], ['Vy', '#008000'], ['Vz', '#0000ff']]);
  title('Solar Wind Velocity (GSE Frame)', 900, 1963);
  ylab('Vsw(km/s)', 42, 2083, 15);
})();
(function(){
  const ax = timePanel(3, 'plasma-beta-panel', 0, 5, [0, 1, 2, 3, 4, 5]);
  poly(ax, tMin, betaP, '#0000ff', 2, 'beta-p-line');
  ax.frame();
  timeLegend(1616, 2324, 67, [['\u03b2', '#0000ff', 'p']]);
  title('Plasma Beta', 900, 2297);
  const yl = ylab('', 76, 2417, 15);
  yl.setAttribute('fill', '#555');
  tspan(yl, '\u03b2', {'font-style': 'italic', 'font-family': 'Liberation Serif, serif'});
  tspan(yl, 'p', {'font-size': 10, dy: 4, 'font-style': 'italic', 'font-family': 'Liberation Serif, serif'});
  tspan(yl, ' and ', {dy: -4});
  tspan(yl, '\u03b2', {'font-style': 'italic', 'font-family': 'Liberation Serif, serif'});
})();
(function(){
  const ax = timePanel(4, 'proton-density-panel', 0, 40, [0, 5, 10, 15, 20, 25, 30, 35, 40]);
  poly(ax, tMin, npVals, '#0000ff', 2, 'np-line');
  ax.frame();
  title('Proton Number Density', 900, 2631);
  ylab('Np(#/cc)', 68, 2751, 15);
})();
(function(){
  const ax = timePanel(5, 'proton-temperature-panel', 0, 0.5, [0, 0.1, 0.2, 0.3, 0.4, 0.5], ['0.0', '0.1', '0.2', '0.3', '0.4', '0.5']);
  poly(ax, tMin, tpVals, '#0000ff', 2, 'tp-line');
  ax.frame();
  const lg = mk('g', {});
  
  
  mk('rect', {x: 124, y: 2980, width: 71, height: 27, fill: '#fff', stroke: '#000', 'stroke-width': 2}, lg);
  mk('line', {x1: 134, x2: 156, y1: 2993, y2: 2993, stroke: '#0000ff', 'stroke-width': 2}, lg);
  txt('Tp', {x: 170, y: 2999, 'font-size': 15}, lg);
  const t = title('', 900, 2965);
  tspan(t, 'Proton Temperature and ');
  tspan(t, 'T', {'font-style': 'italic', 'font-family': 'Liberation Serif, serif'});
  tspan(t, 'e', {'font-style': 'italic', 'font-family': 'Liberation Serif, serif', 'font-size': 14, dy: 4});
  tspan(t, '/', {dy: -4, 'font-family': 'Liberation Serif, serif'});
  tspan(t, 'T', {'font-style': 'italic', 'font-family': 'Liberation Serif, serif'});
  tspan(t, 'p', {'font-style': 'italic', 'font-family': 'Liberation Serif, serif', 'font-size': 14, dy: 4});
  const yl = ylab('', 58, 3085, 15);
  tspan(yl, 'Tp(');
  tspan(yl, '10', {'font-family': 'Liberation Serif, serif', 'font-size': 13});
  tspan(yl, '6', {'font-size': 9, dy: -6});
  tspan(yl, 'K)', {dy: 6});
})();
</script>
</body></html>
